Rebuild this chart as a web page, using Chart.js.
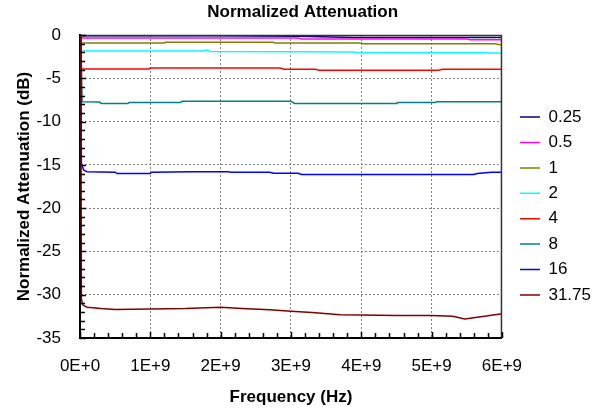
<!DOCTYPE html>
<html>
<head>
<meta charset="utf-8">
<script src="https://cdn.jsdelivr.net/npm/chart.js@4/dist/chart.umd.min.js"></script>
<style>
  html, body { margin: 0; padding: 0; background: #fff; }
  #wrap { width: 595px; height: 412px; }
</style>
</head>
<body>
<div id="wrap"><canvas id="attenChart" width="595" height="412"></canvas></div>
<script>
// Series names (attenuator states)
const seriesNames = ['0.25', '0.5', '1', '2', '4', '8', '16', '31.75'];
const seriesColors = ['#000080', '#ff00ff', '#808000', '#00ffff', '#ff0000', '#008080', '#0000ff', '#800000'];

// Frequency (GHz) / normalized attenuation (dB) per series
const freq025 = [0.01, 0.02, 1.0, 2.0, 3.1, 3.9, 4.5, 5.5, 6.0];
const att025 = [0, -0.08, -0.1, -0.1, -0.15, -0.28, -0.3, -0.3, -0.3];

const freq05 = [0.01, 0.02, 3.1, 3.15, 5.5, 5.55, 6.0];
const att05 = [0, -0.35, -0.35, -0.45, -0.45, -0.55, -0.55];

const freq1 = [0.01, 0.02, 1.2, 1.22, 2.75, 2.77, 4.0, 4.02, 5.9, 5.95, 6.0];
const att1 = [0, -0.92, -0.92, -0.85, -0.85, -0.93, -0.93, -1.0, -1.0, -1.1, -1.12];

const freq2 = [0.01, 0.02, 1.75, 1.8, 1.85, 3.1, 3.9, 3.92, 5.7, 6.0];
const att2 = [0, -1.85, -1.85, -1.75, -1.9, -1.93, -1.96, -2.02, -2.04, -2.1];

const freq4 = [0.01, 0.02, 0.98, 1.0, 2.85, 2.9, 3.35, 3.4, 5.1, 5.15, 6.0];
const att4 = [0, -3.92, -3.92, -3.82, -3.82, -3.95, -3.95, -4.08, -4.08, -3.96, -3.96];

const freq8 = [0.01, 0.03, 0.28, 0.3, 0.68, 0.7, 1.43, 1.45, 3.0, 3.05, 4.5, 4.52, 5.05, 5.07, 6.0];
const att8 = [0, -7.7, -7.75, -7.9, -7.9, -7.8, -7.8, -7.65, -7.65, -7.9, -7.9, -7.8, -7.8, -7.7, -7.7];

const freq16 = [0.01, 0.02, 0.05, 0.1, 0.5, 0.53, 1.0, 1.02, 1.6, 2.1, 2.15, 2.7, 2.75, 3.1, 3.15, 5.6, 5.65, 5.85, 6.0];
const att16 = [0, -14.8, -15.6, -15.8, -15.85, -16.0, -16.0, -15.85, -15.8, -15.8, -15.85, -15.85, -15.97, -15.97, -16.1, -16.1, -16.0, -15.85, -15.85];

const freq3175 = [0.01, 0.02, 0.04, 0.1, 0.3, 0.5, 1.0, 1.5, 2.0, 2.3, 2.7, 3.0, 3.3, 3.7, 4.0, 4.5, 5.0, 5.3, 5.47, 5.7, 6.0];
const att3175 = [0, -30.5, -31.2, -31.45, -31.6, -31.7, -31.65, -31.6, -31.45, -31.6, -31.75, -31.9, -32.05, -32.3, -32.35, -32.4, -32.4, -32.5, -32.8, -32.55, -32.2];

const seriesFreqs = [freq025, freq05, freq1, freq2, freq4, freq8, freq16, freq3175];
const seriesAtts = [att025, att05, att1, att2, att4, att8, att16, att3175];

// Axis ticks
const xTickLabels = ['0E+0', '1E+9', '2E+9', '3E+9', '4E+9', '5E+9', '6E+9'];
const yMin = -35, yMax = 0, yStep = 5;

const baseFont = "'Liberation Sans', Arial, sans-serif";

// Inward minor/major ticks plus the frame round the plot area
const frameAndTicks = {
    id: 'frameAndTicks',
    afterDatasetsDraw(chart) {
        const ctx = chart.ctx;
        const area = chart.chartArea;
        const xs = chart.scales.x;
        const ys = chart.scales.y;
        ctx.save();
        ctx.strokeStyle = '#333';
        ctx.lineWidth = 1.5;
        ctx.beginPath();
        ctx.moveTo(area.left, area.top + 0.5);
        ctx.lineTo(area.right - 0.5, area.top + 0.5);
        ctx.lineTo(area.right - 0.5, area.bottom);
        ctx.stroke();

        ctx.strokeStyle = '#000';
        ctx.lineWidth = 1.5;
        ctx.beginPath();
        for (let v = yMin; v <= yMax; v += 1) {
            const y = Math.round(ys.getPixelForValue(v)) + 0.5;
            const len = v % yStep === 0 ? 6 : 5;
            ctx.moveTo(area.left, y);
            ctx.lineTo(area.left + len, y);
        }
        for (let i = 0; i <= 30; i++) {
            const x = Math.round(xs.getPixelForValue(i * 0.2)) + 0.5;
            const len = i % 5 === 0 ? 6 : 5;
            ctx.moveTo(x, area.bottom);
            ctx.lineTo(x, area.bottom - len);
        }
        ctx.stroke();
        ctx.restore();
    },
    afterLayout(chart) {
        // push the legend a little away from the plot
        chart.legend.left += 9.6;
        chart.legend.right += 9.6;
    }
};

document.addEventListener('DOMContentLoaded', function() {
    const datasets = seriesNames.map((name, i) => ({
        label: name,
        data: seriesFreqs[i].map((f, j) => ({ x: f, y: seriesAtts[i][j] })),
        borderColor: seriesColors[i],
        backgroundColor: seriesColors[i],
        borderWidth: 1.5,
        pointRadius: 0,
        tension: 0,
        order: seriesNames.length - i
    }));

    new Chart(document.getElementById('attenChart'), {
        type: 'line',
        data: { datasets: datasets },
        plugins: [frameAndTicks],
        options: {
            responsive: false,
            animation: false,
            layout: { padding: { left: 14, right: 3.6, top: 0, bottom: 0 } },
            plugins: {
                title: {
                    display: true,
                    text: 'Normalized Attenuation',
                    color: '#000',
                    font: { family: baseFont, size: 17, weight: 'bold' },
                    padding: { top: 2.3, bottom: 12.3 }
                },
                legend: {
                    position: 'right',
                    labels: {
                        usePointStyle: true,
                        pointStyle: 'line',
                        pointStyleWidth: 20,
                        padding: 8.4,
                        color: '#000',
                        font: { family: baseFont, size: 17 },
                        sort: (a, b) => a.datasetIndex - b.datasetIndex
                    }
                },
                tooltip: { enabled: false }
            },
            scales: {
                x: {
                    type: 'linear',
                    min: 0,
                    max: 6,
                    afterFit(scale) { scale.height = 74; },
                    ticks: {
                        stepSize: 1,
                        padding: 18,
                        color: '#000',
                        maxRotation: 0,
                        font: { family: baseFont, size: 17 },
                        callback: (v) => xTickLabels[Math.round(v)]
                    },
                    grid: {
                        color: '#808080',
                        lineWidth: 1,
                        drawTicks: false
                    },
                    border: { display: true, color: '#000', width: 2, dash: [2, 2] },
                    title: {
                        display: true,
                        text: 'Frequency (Hz)',
                        color: '#000',
                        font: { family: baseFont, size: 17, weight: 'bold' },
                        padding: { top: 0, bottom: 4.3 }
                    }
                },
                y: {
                    min: yMin,
                    max: yMax,
                    afterFit(scale) { scale.width = 66; },
                    ticks: {
                        stepSize: yStep,
                        padding: 19,
                        color: '#000',
                        font: { family: baseFont, size: 17 }
                    },
                    grid: {
                        color: '#808080',
                        lineWidth: 1,
                        drawTicks: false
                    },
                    border: { display: true, color: '#000', width: 2, dash: [2, 2] },
                    title: {
                        display: true,
                        text: 'Normalized Attenuation (dB)',
                        color: '#000',
                        font: { family: baseFont, size: 17, weight: 'bold' },
                        padding: { top: 0, bottom: 0 }
                    }
                }
            }
        }
    });
});
</script>
</body>
</html>
